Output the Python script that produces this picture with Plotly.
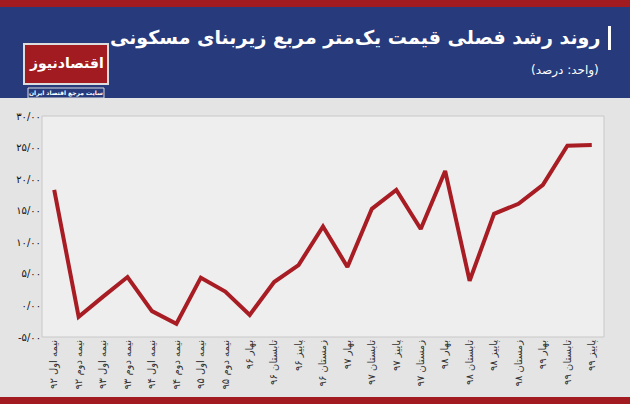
import plotly.graph_objects as go

categories = ["نیمه اول ۹۲", "نیمه دوم ۹۲", "نیمه اول ۹۳", "نیمه دوم ۹۳", "نیمه اول ۹۴",
              "نیمه دوم ۹۴", "نیمه اول ۹۵", "نیمه دوم ۹۵", "بهار ۹۶", "تابستان ۹۶",
              "پاییز ۹۶", "زمستان ۹۶", "بهار ۹۷", "تابستان ۹۷", "پاییز ۹۷", "زمستان ۹۷",
              "بهار ۹۸", "تابستان ۹۸", "پاییز ۹۸", "زمستان ۹۸", "بهار ۹۹", "تابستان ۹۹",
              "پاییز ۹۹"]
values = [18.3, -1.8, 1.4, 4.5, -0.9, -2.9, 4.4, 2.2, -1.5, 3.7, 6.4, 12.5, 6.1,
          15.3, 18.3, 12.1, 21.3, 3.9, 14.5, 16.1, 19.1, 25.3, 25.4]
tick_vals = [-5, 0, 5, 10, 15, 20, 25, 30]
tick_text = ["-۵/۰۰", "۰/۰۰", "۵/۰۰", "۱۰/۰۰", "۱۵/۰۰", "۲۰/۰۰", "۲۵/۰۰", "۳۰/۰۰"]

W, H = 630, 404
L, R, T, B = 42, 604, 116, 337

fig = go.Figure()
fig.add_trace(go.Scatter(x=list(range(len(values))), y=values, mode="lines",
                         line=dict(color="#a81c24", width=4), hoverinfo="skip"))

def px(x0, y0, x1, y1, **kw):
    return dict(type="rect", xref="paper", yref="paper", x0=(x0 - L) / (R - L), x1=(x1 - L) / (R - L),
                y0=(B - y0) / (B - T), y1=(B - y1) / (B - T), layer="below", **kw)

shapes = [
    px(0, 0, W, 7, fillcolor="#a11b20", line_width=0),
    px(0, 7, W, 98, fillcolor="#263a7c", line_width=0),
    px(0, 397, W, H, fillcolor="#a11b20", line_width=0),
    px(L, T, R, B, fillcolor="rgba(245,245,245,0.6)", line=dict(color="#c8c8c8", width=1)),
    px(24, 44, 108, 84, fillcolor="#a11b20", line=dict(color="#dddddd", width=2)),
    px(28, 88, 104, 98, fillcolor="#263a7c", line=dict(color="#dddddd", width=1)),
    px(608, 26, 611, 50, fillcolor="white", line_width=0),
]

def ann(x, y, text, size, color, xanchor="center", family="DejaVu Sans"):
    return dict(xref="paper", yref="paper", x=(x - L) / (R - L), y=(B - y) / (B - T),
                text=text, showarrow=False, xanchor=xanchor, yanchor="middle",
                font=dict(size=size, color=color, family=family))

annotations = [
    ann(355, 38, "<b>روند رشد فصلی قیمت یک‌متر مربع زیربنای مسکونی</b>", 19, "white"),
    ann(565, 70, "(واحد: درصد)", 12, "white"),
    ann(66, 64, "<b>اقتصادنیوز</b>", 14, "white"),
    ann(66, 93, "<b>سایت مرجع اقتصاد ایران</b>", 6, "white"),
]

fig.update_layout(
    width=W, height=H, margin=dict(l=L, r=W - R, t=T, b=H - B, autoexpand=False),
    paper_bgcolor="#e4e4e4", plot_bgcolor="rgba(0,0,0,0)",
    showlegend=False, shapes=shapes, annotations=annotations,
    font=dict(family="DejaVu Sans", color="#222222"),
    xaxis=dict(range=[-0.5, len(values) - 0.5], tickvals=list(range(len(values))),
               ticktext=categories, tickangle=-90, showgrid=False, zeroline=False,
               tickfont=dict(size=10, color="#333333"), showline=False, ticks="",
               automargin=False),
    yaxis=dict(range=[-5, 30], tickvals=tick_vals, ticktext=tick_text, showgrid=False,
               zeroline=False, tickfont=dict(size=10, color="#111111"), ticks="",
               automargin=False),
)
fig.write_html("out.html", config={"displayModeBar": False},
               post_script="document.body.style.margin='0';")
